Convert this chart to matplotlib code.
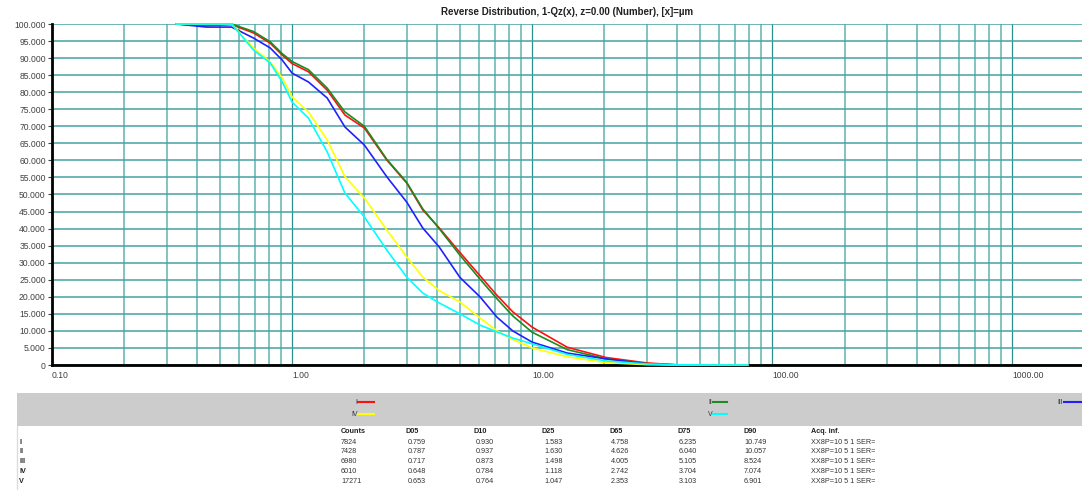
import matplotlib
matplotlib.use("Agg")
import matplotlib.pyplot as plt
from matplotlib.ticker import FixedLocator, NullFormatter, LogLocator
from matplotlib.patches import Rectangle
from matplotlib.lines import Line2D

plt.rcParams['font.family'] = ['Liberation Sans', 'DejaVu Sans']

# ---------------- data ----------------
size_um = [0.33, 0.44, 0.56, 0.69, 0.81, 0.91, 1.0, 1.17, 1.4, 1.66, 2.0, 2.48,
           3.0, 3.5, 4.1, 5.0, 6.06, 7.14, 8.3, 10.0, 14.0, 20.3, 30.0, 41.0, 79.0]
series_I = [100, 99.5, 99.8, 97.4, 94.4, 90.9, 88.4, 86.0, 80.6, 73.3, 69.5, 60.1,
            53.4, 45.5, 40.2, 33.0, 26.2, 20.4, 15.6, 11.1, 5.2, 2.2, 0.6, 0.0, 0.0]
series_II = [100, 100, 100, 97.8, 94.8, 91.3, 89.0, 86.6, 81.2, 74.2, 70.0, 60.3,
             53.6, 45.8, 40.0, 32.2, 25.2, 19.4, 14.4, 9.6, 4.5, 1.8, 0.4, 0.0, 0.0]
series_III = [100, 99.1, 99.1, 95.9, 93.0, 89.4, 85.6, 83.0, 78.3, 69.8, 64.5, 55.2,
              47.8, 40.2, 34.6, 25.7, 20.0, 14.0, 10.0, 6.7, 3.5, 1.8, 0.3, 0.0, 0.0]
series_IV = [100, 100, 100, 93.0, 88.9, 84.2, 78.6, 74.2, 66.0, 55.2, 49.0, 39.6,
             31.7, 25.8, 21.8, 18.5, 13.8, 10.0, 7.5, 5.0, 2.4, 0.7, 0.1, 0.0, 0.0]
series_V = [100, 100, 100, 92.4, 88.6, 83.0, 77.1, 72.4, 62.5, 50.4, 43.4, 33.7,
            25.8, 21.1, 18.2, 15.0, 11.7, 9.7, 7.9, 6.2, 3.1, 1.2, 0.3, 0.05, 0.0]

series_names = ['I', 'II', 'III', 'IV', 'V']
series_colors = ['#ff1010', '#1f8a1f', '#2020ff', '#ffff00', '#00ffff']
series_values = [series_I, series_II, series_III, series_IV, series_V]

x_major = [0.1, 1, 10, 100, 1000]
x_major_labels = ['0.10', '1.00', '10.00', '100.00', '1000.00']
y_ticks = list(range(0, 101, 5))

table_header = ['Counts', 'D05', 'D10', 'D25', 'D65', 'D75', 'D90', 'Acq. inf.']
table_counts = ['7824', '7428', '6980', '6010', '17271']
table_D05 = ['0.759', '0.787', '0.717', '0.648', '0.653']
table_D10 = ['0.930', '0.937', '0.873', '0.784', '0.764']
table_D25 = ['1.583', '1.630', '1.498', '1.118', '1.047']
table_D65 = ['4.758', '4.626', '4.005', '2.742', '2.353']
table_D75 = ['6.235', '6.040', '5.105', '3.704', '3.103']
table_D90 = ['10.749', '10.057', '8.524', '7.074', '6.901']
table_acq = ['XX8P=10 5 1 SER='] * 5

title = 'Reverse Distribution, 1-Qz(x), z=0.00 (Number), [x]=\u00b5m'

# ---------------- figure ----------------
W, H = 1082, 490
fig = plt.figure(figsize=(W / 100, H / 100), dpi=100)
fig.patch.set_facecolor('white')

def fx(px):
    return px / W

def fy(py):
    return 1 - py / H

ax = fig.add_axes([fx(52), fy(365), fx(1082 - 52), (365 - 24) / H])
ax.set_xscale('log')
ax.set_xlim(0.1, 1950)
ax.set_ylim(0, 100)

for name, col, vals in zip(series_names, series_colors, series_values):
    ax.plot(size_um, vals, color=col, lw=1.2, zorder=3, clip_on=False)

ax.xaxis.set_major_locator(FixedLocator(x_major))
ax.set_xticklabels(x_major_labels)
ax.xaxis.set_minor_locator(LogLocator(base=10, subs=[2, 3, 4, 5, 6, 7, 8, 9], numticks=20))
ax.xaxis.set_minor_formatter(NullFormatter())
for lab in ax.get_xticklabels():
    lab.set_horizontalalignment('left')
ax.tick_params(axis='x', which='both', length=0, pad=4, labelsize=6.2, labelcolor='#404040')

ax.set_yticks(y_ticks)
ax.set_yticklabels(['0' if v == 0 else '%.3f' % v for v in y_ticks])
ax.tick_params(axis='y', length=3, width=0.8, color='#404040', pad=1.5, labelsize=6.2,
               labelcolor='#404040')

ax.grid(True, which='major', axis='x', color='#2b9090', lw=0.9, zorder=1)
ax.grid(True, which='minor', axis='x', color='#62b3b3', lw=1.1, zorder=1)
ax.grid(True, which='major', axis='y', color='#46a2a2', lw=1.1, zorder=1)
ax.set_axisbelow(True)

for s in ['top', 'right']:
    ax.spines[s].set_visible(False)
for s in ['left', 'bottom']:
    ax.spines[s].set_color('black')
    ax.spines[s].set_linewidth(2)

fig.text(fx(567), fy(12), title, ha='center', va='center', fontsize=7,
         fontweight='bold', color='#202020')

# ---------------- legend band ----------------
fig.patches.append(Rectangle((fx(17), fy(426)), fx(W - 17), (426 - 393) / H,
                             transform=fig.transFigure, facecolor='#cccccc',
                             edgecolor='none', zorder=0))
fig.add_artist(Line2D([fx(17), fx(17)], [fy(426), fy(490)], transform=fig.transFigure,
                      color='#dddddd', lw=1))

legend_pos = {
    'I': (358, 374, 402),
    'IV': (358, 374, 414),
    'II': (713, 727, 402),
    'V': (713, 727, 414),
    'III': (1064, 1090, 402),
}
for name, col in zip(series_names, series_colors):
    x0, x1, yy = legend_pos[name]
    fig.add_artist(Line2D([fx(x0), fx(x1)], [fy(yy), fy(yy)], transform=fig.transFigure,
                          color=col, lw=1.5))
    fig.text(fx(x0 - 0.5), fy(yy), name, ha='right', va='center', fontsize=5,
             color='#333333')

# ---------------- table ----------------
col_x = [341, 406, 474, 542, 609, 677, 744, 811]
header_y = 431.5
row_y = [442, 451.8, 461.6, 471.6, 481.4]
for cx, h in zip(col_x, table_header):
    fig.text(fx(cx), fy(header_y), h, ha='left', va='center', fontsize=5.2,
             fontweight='bold', color='#222222')
columns = [table_counts, table_D05, table_D10, table_D25, table_D65, table_D75,
           table_D90, table_acq]
offsets = [0, 2, 2, 2, 2, 2, 0, 0]
for i, name in enumerate(series_names):
    fig.text(fx(19), fy(row_y[i]), name, ha='left', va='center', fontsize=5.2,
             fontweight='bold', color='#222222')
    for cx, off, col in zip(col_x, offsets, columns):
        fig.text(fx(cx + off), fy(row_y[i]), col[i], ha='left', va='center',
                 fontsize=5.2, color='#333333')

fig.savefig('out.png', dpi=100, facecolor='white')
